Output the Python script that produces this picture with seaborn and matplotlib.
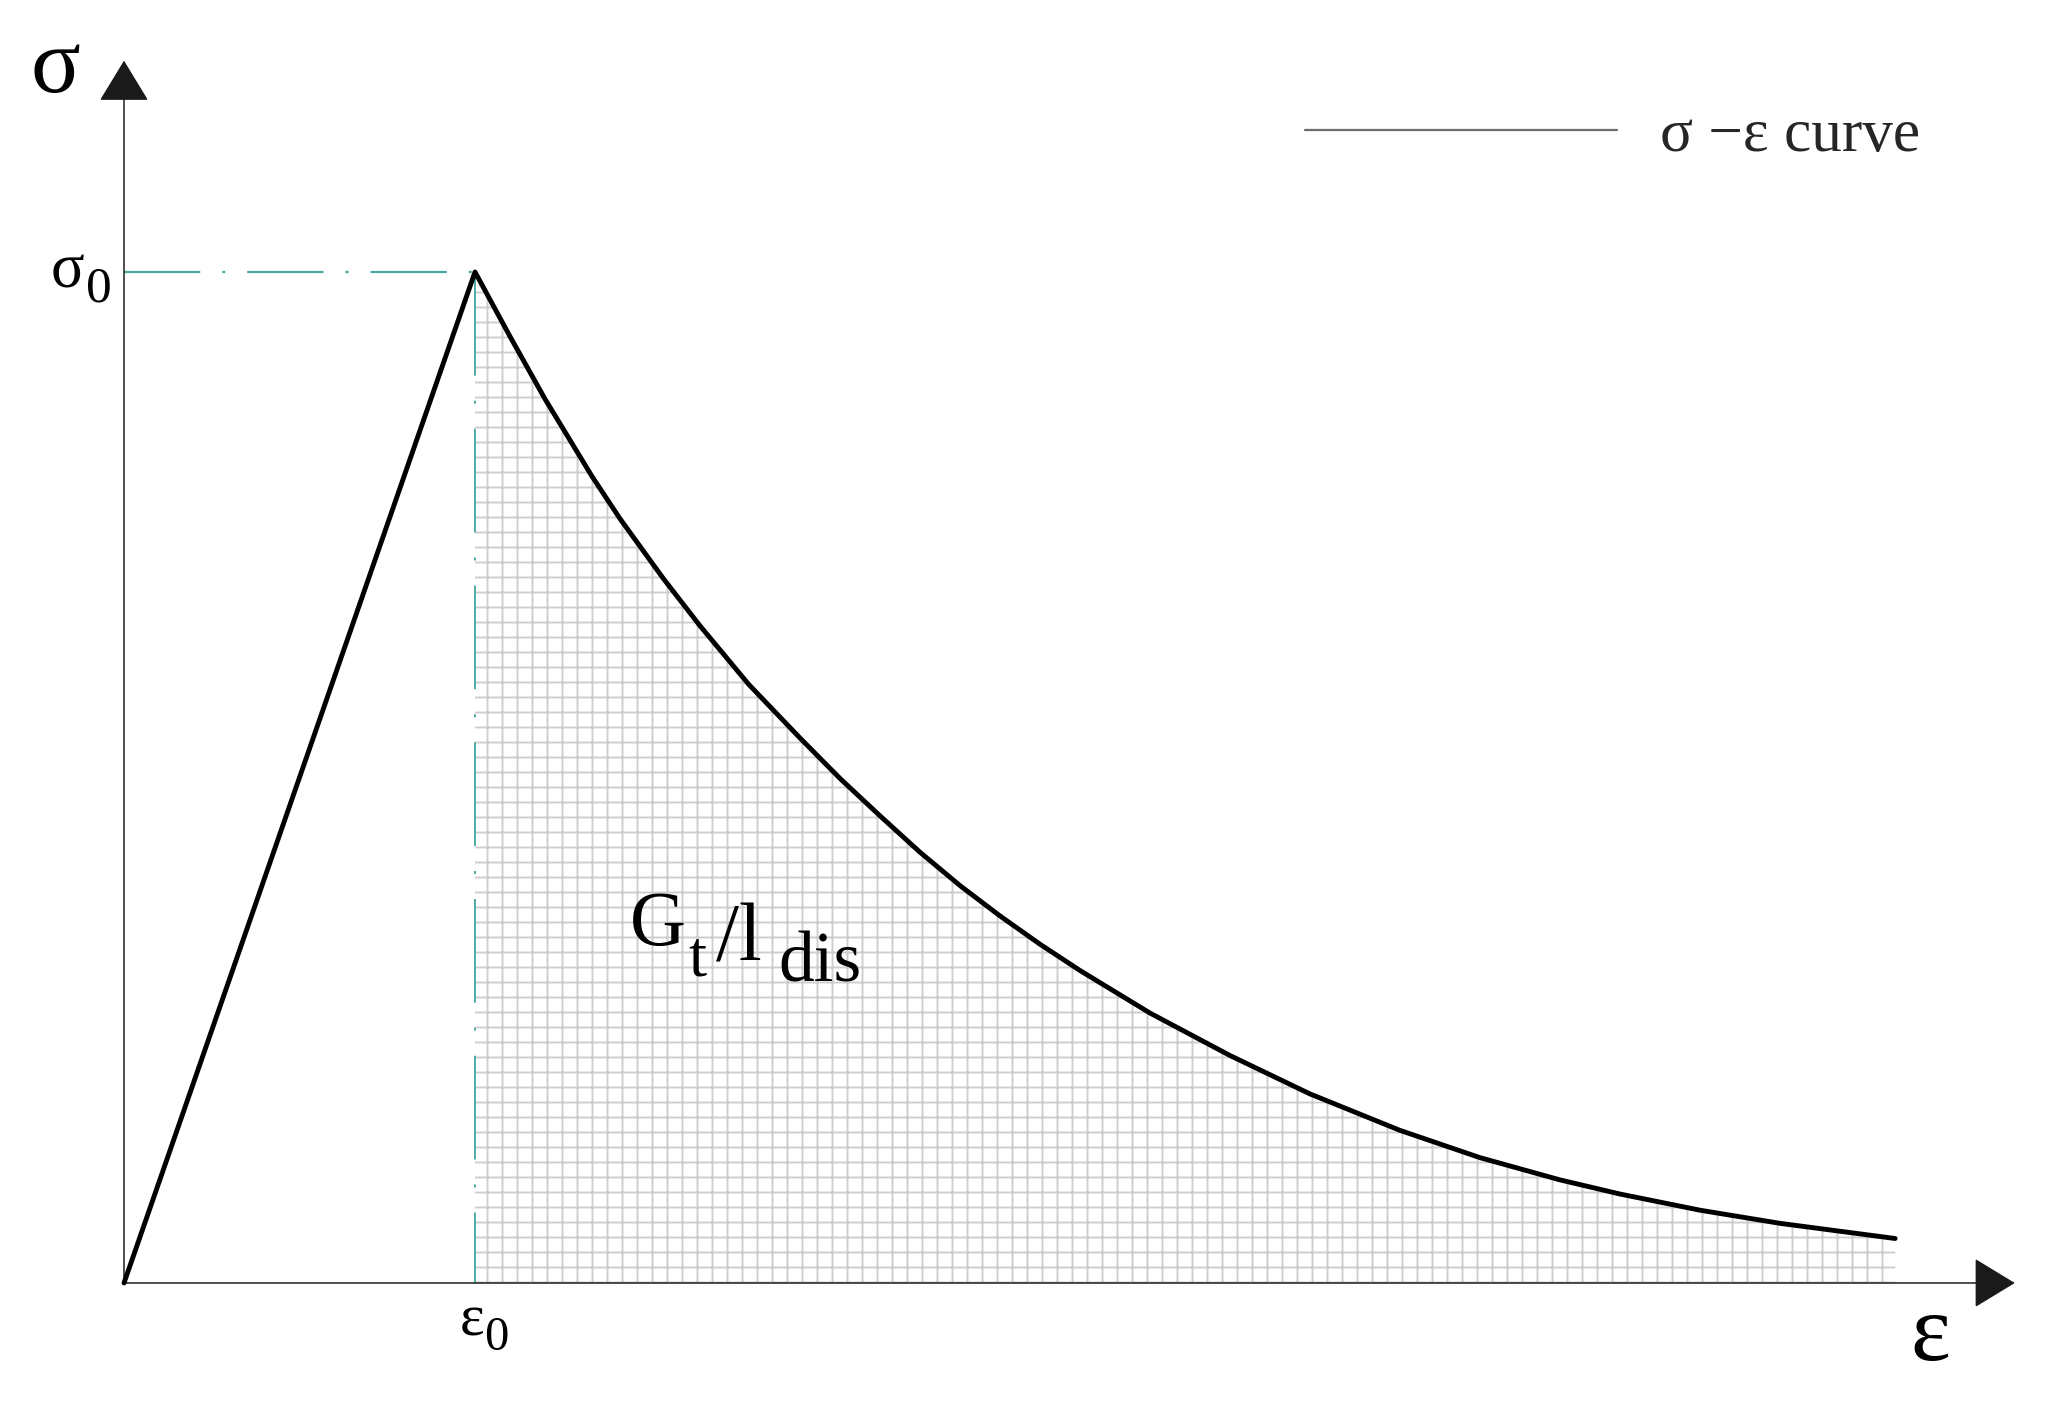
import numpy as np
import pandas as pd
import matplotlib
matplotlib.use('Agg')
import matplotlib.pyplot as plt
from matplotlib.lines import Line2D
import seaborn as sns

sns.set_theme(style="white")
plt.rcParams['font.family'] = ['Liberation Serif', 'DejaVu Serif']
plt.rcParams['lines.scale_dashes'] = False
plt.rcParams['hatch.color'] = '#cdcdcd'
plt.rcParams['hatch.linewidth'] = 1.5

# ── DATA ────────────────────────────────────────────────
eps0 = 1.0
sigma0 = 1.0
strain = [0.0, 1.0, 1.1, 1.2, 1.333, 1.413, 1.536, 1.641, 1.78, 1.926,
          2.04, 2.154, 2.268, 2.382, 2.496, 2.61, 2.724, 2.923, 3.151,
          3.379, 3.635, 3.863, 4.091, 4.262, 4.49, 4.718, 5.046]
stress = [0.0, 1.0, 0.936, 0.874, 0.798, 0.756, 0.697, 0.650, 0.592, 0.539,
          0.499, 0.462, 0.426, 0.393, 0.363, 0.335, 0.309, 0.267, 0.225,
          0.187, 0.151, 0.124, 0.102, 0.088, 0.072, 0.059, 0.044]
x_axis_end = 5.387
y_axis_end = 1.209

df = pd.DataFrame({'strain': strain, 'stress': stress})
soft = df[df['strain'] >= eps0]

# ── FIGURE ──────────────────────────────────────────────
W, H, DPI = 2052, 1403, 90
fig = plt.figure(figsize=(W / DPI, H / DPI), dpi=DPI)
ax = fig.add_axes([0, 0, 1, 1])
ax.set_xlim(-0.3533, 5.4929)
ax.set_ylim(-0.1187, 1.2690)
ax.axis('off')

teal = '#4aa8a3'

# softening area (hatched)
ax.fill_between(soft['strain'], 0, soft['stress'], facecolor='none',
                edgecolor='#cdcdcd', hatch='+', linewidth=0, zorder=1)

# dash-dot guides
ax.plot([0, eps0], [sigma0, sigma0], color=teal, lw=1.8,
        dashes=(61, 17.6, 2.4, 17.6), zorder=2)
ax.plot([eps0, eps0], [sigma0, 0], color=teal, lw=1.5,
        dashes=(83, 20, 2.4, 20), zorder=2)

# axes with arrow heads
arrow = dict(arrowstyle='-|>,head_length=29.6,head_width=18', mutation_scale=1,
             lw=1.2, color='#1a1a1a', shrinkA=0, shrinkB=0)
ax.annotate('', xy=(x_axis_end, 0), xytext=(0, 0), arrowprops=arrow, zorder=3)
ax.annotate('', xy=(0, y_axis_end), xytext=(0, 0), arrowprops=arrow, zorder=3)

# stress-strain curve
sns.lineplot(data=df, x='strain', y='stress', ax=ax, color='black', lw=3.9,
             sort=False, estimator=None, zorder=4,
             solid_joinstyle='round', solid_capstyle='round')

# legend
handle = Line2D([], [], color='#6e6e6e', lw=1.8)
ax.legend(handles=[handle], labels=['σ −ε curve'], loc='center left',
          bbox_to_anchor=(1305 / W, 1 - 136 / H), frameon=False,
          borderpad=0, borderaxespad=0, handlelength=5.1, handletextpad=0.7,
          prop={'family': 'Liberation Serif', 'size': 49})


# ── LABELS (pixel positions) ────────────────────────────
def label(x, y, s, size):
    fig.text(x / W, 1 - y / H, s, fontsize=size, ha='left', va='baseline',
             color='black')


label(30, 92, 'σ', 74)
label(1910, 1360, 'ε', 76)
label(51, 288, 'σ', 50)
label(86, 302, '0', 41)
label(460, 1335, 'ε', 47)
label(484, 1350, '0', 39)
label(630, 945, 'G', 62)
label(688, 975, 't', 52)
label(716, 960, '/l', 66)
label(778, 982, 'dis', 57)

fig.savefig('out.png', dpi=DPI, facecolor='white')
